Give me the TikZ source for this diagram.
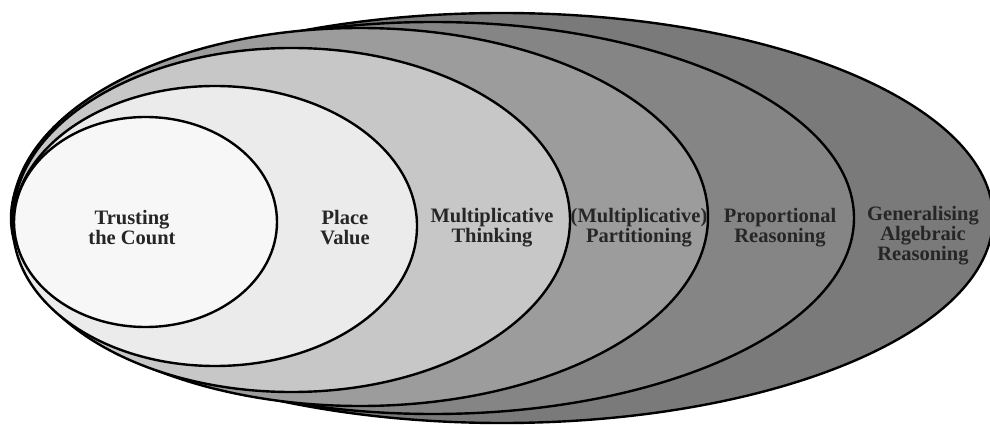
\documentclass[tikz,border=0pt]{standalone}
\usepackage{fontspec}
\setmainfont{Liberation Serif}
\begin{document}
\begin{tikzpicture}[x=1pt,y=-1pt,
  ring/.style={draw=black, line width=2.4pt},
  lbl/.style={align=center, font=\fontsize{20.5}{20}\selectfont\bfseries, text=black!85, inner sep=0pt}]
\useasboundingbox (0,0) rectangle (990,425);
\fill[white] (0,0) rectangle (990,425);
\clip (0,0) rectangle (990,425);
\path[ring, fill=black!52] (502,218) ellipse [x radius=491pt, y radius=205pt];
\path[ring, fill=black!48] (433,218) ellipse [x radius=421pt, y radius=196pt];
\path[ring, fill=black!39] (360,217) ellipse [x radius=348pt, y radius=189pt];
\path[ring, fill=black!22] (291.5,220) ellipse [x radius=278.5pt, y radius=172pt];
\path[ring, fill=black!8] (215,226) ellipse [x radius=202pt, y radius=140pt];
\path[ring, fill=black!3] (145.5,222) ellipse [x radius=131.5pt, y radius=105pt];
\node[lbl] (t1) at (132,228) {Trusting\\the Count};
\node[lbl] (t2) at (345,228) {Place\\Value};
\node[lbl] (t3) at (492,228) {Multiplicative\\Thinking};
\node[lbl] (t4) at (639,228) {(Multiplicative)\\Partitioning};
\node[lbl] (t5) at (780,228) {Proportional\\Reasoning};
\node[lbl] (t6) at (923,236) {Generalising\\Algebraic\\Reasoning};
\end{tikzpicture}
\end{document}
